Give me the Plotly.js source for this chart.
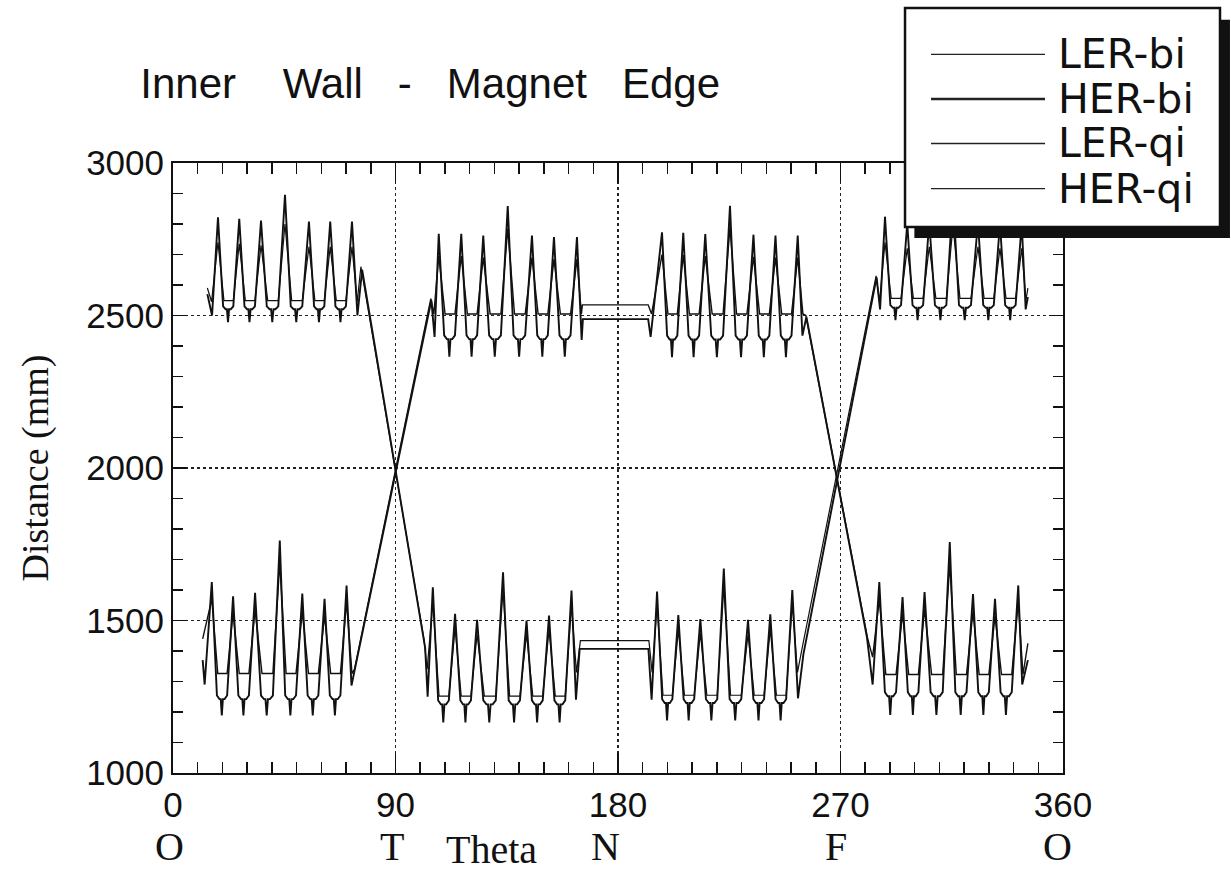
<!DOCTYPE html>
<html><head><meta charset="utf-8">
<script src="https://cdn.plot.ly/plotly-3.0.1.min.js"></script>
<style>html,body{margin:0;padding:0;background:#fff}#chart{width:1231px;height:876px}</style>
</head><body><div id="chart"></div>
<script>
// ---------- DATA ----------
// Theta (deg) of each cell peak, per arc (arc1..arc4)
const LER_peakTheta = [
  [18.2, 26.8, 35.6, 45.3, 55.0, 63.6, 72.4],
  [105.1, 114.1, 123.0, 133.5, 143.0, 152.1, 161.2],
  [195.8, 204.4, 213.3, 222.8, 232.6, 241.6, 250.5],
  [288.0, 297.0, 305.9, 315.5, 325.6, 334.5, 343.3]
];
const HER_peakTheta = [
  [15.7, 24.3, 33.2, 43.2, 52.3, 61.3, 70.2],
  [107.5, 116.6, 125.5, 135.4, 145.2, 154.1, 163.4],
  [197.8, 206.4, 215.3, 225.3, 234.8, 243.7, 252.7],
  [285.7, 295.1, 304.0, 314.2, 323.6, 332.5, 341.9]
];
// Peak distances (mm)
const LER_qi_peak = [
  [2822, 2817, 2811, 2896, 2808, 2808, 2808],
  [1609, 1522, 1502, 1658, 1500, 1516, 1598],
  [1595, 1518, 1505, 1670, 1502, 1520, 1600],
  [2824, 2802, 2807, 2890, 2807, 2802, 2802]
];
const LER_bi_peak = [
  [2740, 2735, 2730, 2800, 2725, 2725, 2725],
  [1560, 1475, 1455, 1600, 1455, 1470, 1550],
  [1550, 1470, 1458, 1610, 1455, 1472, 1555],
  [2740, 2720, 2725, 2795, 2725, 2720, 2720]
];
const HER_qi_peak = [
  [1626, 1579, 1591, 1762, 1588, 1571, 1615],
  [2768, 2768, 2762, 2859, 2762, 2757, 2757],
  [2773, 2771, 2767, 2860, 2765, 2762, 2762],
  [1626, 1577, 1593, 1757, 1587, 1571, 1615]
];
const HER_bi_peak = [
  [1570, 1525, 1535, 1690, 1530, 1515, 1560],
  [2695, 2695, 2690, 2785, 2690, 2685, 2685],
  [2700, 2698, 2695, 2790, 2692, 2690, 2690],
  [1570, 1522, 1537, 1685, 1530, 1515, 1560]
];
// Between-peak levels per arc
const LER_bi_plateau = [2549, 1252, 1255, 2556];
const LER_qi_trough  = [2530, 1238, 1242, 2534];
const LER_qi_notch   = [2478, 1166, 1172, 2485];
const HER_bi_plateau = [1326, 2505, 2505, 1323];
const HER_qi_trough  = [1254, 2435, 2434, 1265];
const HER_qi_notch   = [1189, 2365, 2363, 1190];
// Arc entry / exit points (straight and flat sections join them)
const LER_bi_entryTheta = [[13.9, 15.6], [101.5, 102.8], [192.5, 193.8], [284.4, 285.8]];
const LER_bi_entryValue = [[2590, 2545], [1440, 1340], [1434, 1330], [2630, 2545]];
const LER_bi_exitTheta  = [[74.5, 76.0], [163.2, 164.8], [252.6, 254.5], [345.0, 345.8]];
const LER_bi_exitValue  = [[2545, 2660], [1330, 1434], [1330, 1410], [2550, 2590]];
const LER_qi_entryTheta = [[13.9, 15.8], [102.0, 103.0], [192.3, 193.6], [284.6, 286.0]];
const LER_qi_entryValue = [[2570, 2500], [1410, 1250], [1407, 1240], [2625, 2520]];
const LER_qi_exitTheta  = [[74.6, 76.5], [163.0, 164.5], [252.8, 255.0], [344.9, 345.8]];
const LER_qi_exitValue  = [[2500, 2650], [1240, 1407], [1245, 1390], [2520, 2560]];
const HER_bi_entryTheta = [[12.0], [104.3, 105.5], [192.2, 193.6], [281.0, 283.0]];
const HER_bi_entryValue = [[1440], [2555, 2505], [2535, 2505], [1440, 1380]];
const HER_bi_exitTheta  = [[72.4, 73.4], [165.2, 165.6], [254.8, 256.0], [343.8, 345.8]];
const HER_bi_exitValue  = [[1326, 1340], [2505, 2535], [2505, 2500], [1323, 1425]];
const HER_qi_entryTheta = [[12.0, 12.8], [104.5, 105.8], [192.2, 193.2], [280.7, 283.0]];
const HER_qi_entryValue = [[1370, 1290], [2550, 2430], [2488, 2430], [1445, 1290]];
const HER_qi_exitTheta  = [[72.2, 73.3], [165.3, 165.8], [254.6, 256.2], [343.5, 345.8]];
const HER_qi_exitValue  = [[1287, 1330], [2420, 2488], [2434, 2495], [1290, 1370]];

const seriesNames = ['LER-bi', 'HER-bi', 'LER-qi', 'HER-qi'];
const xTickVals = [0, 90, 180, 270, 360];
const yTickVals = [1000, 1500, 2000, 2500, 3000];
const placeLetters = ['O', 'T', 'N', 'F', 'O'];

// ---------- build polylines from the read values ----------
function build(kind, peakTh, peakV, entT, entV, exT, exV, lvlA, lvlB) {
  const x = [], y = [];
  for (let a = 0; a < 4; a++) {
    entT[a].forEach((t, i) => { x.push(t); y.push(entV[a][i]); });
    const th = peakTh[a], pv = peakV[a];
    for (let i = 0; i < th.length; i++) {
      x.push(th[i]); y.push(pv[i]);
      if (i < th.length - 1) {
        const t0 = th[i], d = th[i + 1] - th[i];
        if (kind === 'bi') {
          x.push(t0 + 0.28 * d, t0 + 0.72 * d); y.push(lvlA[a], lvlA[a]);
        } else {
          const T = lvlA[a], N = lvlB[a], s = T - 0.18 * (T - N);
          const fr = [0.24, 0.36, 0.42, 0.47, 0.52, 0.60, 0.72];
          const vv = [T, s, s, N, s, s, T];
          fr.forEach((f, k) => { x.push(t0 + f * d); y.push(vv[k]); });
        }
      }
    }
    exT[a].forEach((t, i) => { x.push(t); y.push(exV[a][i]); });
  }
  return { x, y };
}

const s1 = build('bi', LER_peakTheta, LER_bi_peak, LER_bi_entryTheta, LER_bi_entryValue, LER_bi_exitTheta, LER_bi_exitValue, LER_bi_plateau);
const s2 = build('bi', HER_peakTheta, HER_bi_peak, HER_bi_entryTheta, HER_bi_entryValue, HER_bi_exitTheta, HER_bi_exitValue, HER_bi_plateau);
const s3 = build('qi', LER_peakTheta, LER_qi_peak, LER_qi_entryTheta, LER_qi_entryValue, LER_qi_exitTheta, LER_qi_exitValue, LER_qi_trough, LER_qi_notch);
const s4 = build('qi', HER_peakTheta, HER_qi_peak, HER_qi_entryTheta, HER_qi_entryValue, HER_qi_exitTheta, HER_qi_exitValue, HER_qi_trough, HER_qi_notch);

const widths = [1.2, 1.4, 1.9, 1.9];
const traces = [s1, s2, s3, s4].map((s, i) => ({
  type: 'scatter', mode: 'lines', name: seriesNames[i], x: s.x, y: s.y,
  line: { color: '#111', width: widths[i] }, hoverinfo: 'skip'
}));

// ---------- custom legend (box with drop shadow) ----------
const legendRowsY = [1.178, 1.105, 1.032, 0.958];
const legendSampleW = [1.4, 2.4, 1.4, 1.4];
const shapes = [
  { type: 'rect', xref: 'paper', yref: 'paper', x0: 0.833, x1: 1.1876, y0: 0.877, y1: 1.235,
    fillcolor: '#111', line: { width: 0 }, layer: 'above' },
  { type: 'rect', xref: 'paper', yref: 'paper', x0: 0.8225, x1: 1.1764, y0: 0.895, y1: 1.254,
    fillcolor: '#fff', line: { color: '#111', width: 2.5 }, layer: 'above' }
];
legendRowsY.forEach((yy, i) => shapes.push({
  type: 'line', xref: 'paper', yref: 'paper', x0: 0.8517, x1: 0.9798, y0: yy, y1: yy,
  line: { color: '#222', width: legendSampleW[i] }, layer: 'above'
}));
const annotations = legendRowsY.map((yy, i) => ({
  xref: 'paper', yref: 'paper', x: 0.992, y: yy, xanchor: 'left', yanchor: 'middle',
  text: seriesNames[i], showarrow: false,
  font: { family: 'DejaVu Sans, Liberation Sans', size: 41, color: '#111' }
}));
// place letters under the theta axis (paper x from the plot's left edge)
const letterPaperX = [-0.004, 0.246, 0.486, 0.745, 0.994];
placeLetters.forEach((t, i) => annotations.push({
  xref: 'paper', yref: 'paper', x: letterPaperX[i], y: -0.12, xanchor: 'center', yanchor: 'middle',
  text: t, showarrow: false,
  font: { family: 'Liberation Serif, Times New Roman, serif', size: 40, color: '#111' }
}));
annotations.push({
  xref: 'paper', yref: 'paper', x: 0.358, y: -0.126, xanchor: 'center', yanchor: 'middle',
  text: 'Theta', showarrow: false,
  font: { family: 'Liberation Serif, Times New Roman, serif', size: 40, color: '#111' }
});

const tickFont = { family: 'Liberation Sans, Arial, sans-serif', size: 35, color: '#111' };
const layout = {
  width: 1231, height: 876,
  margin: { l: 173, r: 168, t: 163, b: 103 },
  paper_bgcolor: '#fff', plot_bgcolor: '#fff',
  showlegend: false,
  title: {
    text: 'Inner\u00a0\u00a0\u00a0\u00a0Wall\u00a0\u00a0\u00a0-\u00a0\u00a0\u00a0Magnet\u00a0\u00a0\u00a0Edge',
    font: { family: 'Liberation Sans, Arial, sans-serif', size: 42, color: '#111' },
    xref: 'container', x: 0.114, xanchor: 'left', yref: 'container', y: 0.905, yanchor: 'middle'
  },
  xaxis: {
    range: [0, 360], tickvals: xTickVals, ticks: 'inside', ticklen: 20, tickwidth: 1.5, tickcolor: '#111',
    minor: { dtick: 10, tick0: 0, ticks: 'inside', ticklen: 11, tickwidth: 1.5, tickcolor: '#111', showgrid: false },
    showline: true, linewidth: 2, linecolor: '#111', mirror: 'ticks',
    showgrid: true, gridcolor: '#222', griddash: 'dot', gridwidth: 1.3, zeroline: false,
    tickfont: tickFont
  },
  yaxis: {
    range: [1000, 3000], tickvals: yTickVals, ticks: 'inside', ticklen: 14, tickwidth: 1.5, tickcolor: '#111',
    minor: { dtick: 100, tick0: 1000, ticks: 'inside', ticklen: 10, tickwidth: 1.5, tickcolor: '#111', showgrid: false },
    showline: true, linewidth: 2, linecolor: '#111', mirror: 'ticks',
    showgrid: true, gridcolor: '#222', griddash: 'dot', gridwidth: 1.3, zeroline: false,
    tickfont: tickFont,
    title: { text: 'Distance (mm)', standoff: 26,
      font: { family: 'Liberation Serif, Times New Roman, serif', size: 38, color: '#111' } }
  },
  shapes: shapes,
  annotations: annotations
};

Plotly.newPlot('chart', traces, layout, { displayModeBar: false, staticPlot: true });
</script>
</body></html>
